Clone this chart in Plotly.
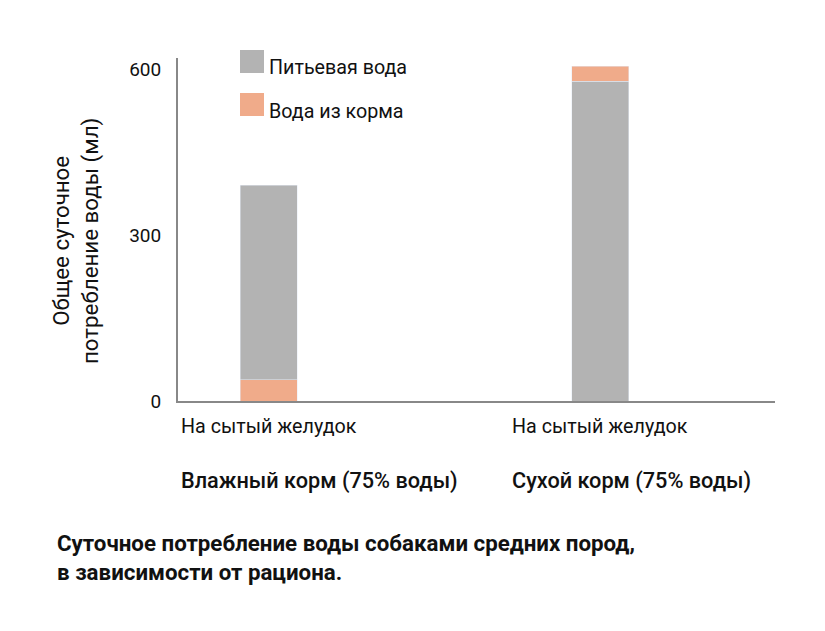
import plotly.graph_objects as go

categories = ["Влажный корм (75% воды)", "Сухой корм (75% воды)"]
sub_labels = ["На сытый желудок", "На сытый желудок"]
food_water = [38, 27]
drinking_water = [352, 578]
series_names = ["Питьевая вода", "Вода из корма"]
colors = ["#b3b3b3", "#f0ab8a"]
y_ticks = [0, 300, 600]

FONT = "Roboto"
fig = go.Figure()

fig.add_trace(go.Bar(x=[categories[0]], y=[food_water[0]], marker_color=colors[1],
                     name=series_names[1], showlegend=False, width=0.172))
fig.add_trace(go.Bar(x=[categories[0]], y=[drinking_water[0]], marker_color=colors[0],
                     name=series_names[0], showlegend=False, width=0.172))
fig.add_trace(go.Bar(x=[categories[1]], y=[drinking_water[1]], marker_color=colors[0],
                     name=series_names[0], showlegend=False, width=0.172))
fig.add_trace(go.Bar(x=[categories[1]], y=[food_water[1]], marker_color=colors[1],
                     name=series_names[1], showlegend=False, width=0.172))

annotations = []
for cat, sub in zip(categories, sub_labels):
    annotations.append(dict(x=cat, xref="x", y=0, yref="paper", yshift=-12,
                            text=sub, showarrow=False, xanchor="left", yanchor="top",
                            xshift=-90, font=dict(family=FONT, size=19.7, color="#111")))
    annotations.append(dict(x=cat, xref="x", y=0, yref="paper", yshift=-65,
                            text=cat, showarrow=False, xanchor="left", yanchor="top",
                            xshift=-90, font=dict(family=FONT, size=21.7, color="#111",
                                                  weight=500)))

shapes = []
leg_items = [(series_names[0], colors[0], 50), (series_names[1], colors[1], 93)]
for name, col, ytop in leg_items:
    shapes.append(dict(type="rect", xref="paper", yref="paper",
                       x0=(240 - 178) / 597, x1=(264 - 178) / 597,
                       y0=(401 - ytop) / 343, y1=(401 - ytop - 23) / 343,
                       fillcolor=col, line=dict(width=0)))
    annotations.append(dict(xref="paper", yref="paper", x=(267 - 178) / 597,
                            y=(401 - ytop - 18) / 343, text=name, showarrow=False,
                            xanchor="left", yanchor="middle",
                            font=dict(family=FONT, size=19.7, color="#111")))

annotations.append(dict(xref="paper", yref="paper", x=(76 - 178) / 597,
                        y=(401 - 241) / 343, text="Общее суточное<br>потребление воды (мл)",
                        showarrow=False, textangle=-90, xanchor="center", yanchor="middle",
                        font=dict(family=FONT, size=22.3, color="#111")))

annotations.append(dict(xref="paper", yref="paper", x=(55 - 178) / 597,
                        y=(401 - 528) / 343,
                        text="Суточное потребление воды собаками средних пород,<br>в зависимости от рациона.",
                        showarrow=False, xanchor="left", yanchor="top", align="left",
                        font=dict(family=FONT, size=22.3, color="#111", weight="bold")))

fig.update_layout(
    width=825, height=631,
    margin=dict(l=170, r=58, t=50, b=238),
    barmode="stack",
    plot_bgcolor="white", paper_bgcolor="white",
    showlegend=False,
    annotations=annotations,
    shapes=shapes,
    font=dict(family=FONT, size=20, color="#111"),
)
fig.update_xaxes(type="category", categoryarray=categories, range=[-0.273, 1.526],
                 showticklabels=False, showline=True, linecolor="#888", linewidth=2,
                 showgrid=False, ticks="", zeroline=False)
fig.update_yaxes(range=[0, 620], tickvals=y_ticks, showline=True, linecolor="#888",
                 linewidth=2, showgrid=False, ticks="", zeroline=False,
                 ticklabelstandoff=11, tickfont=dict(family=FONT, size=19, color="#111"))

fig.write_html("out.html")
